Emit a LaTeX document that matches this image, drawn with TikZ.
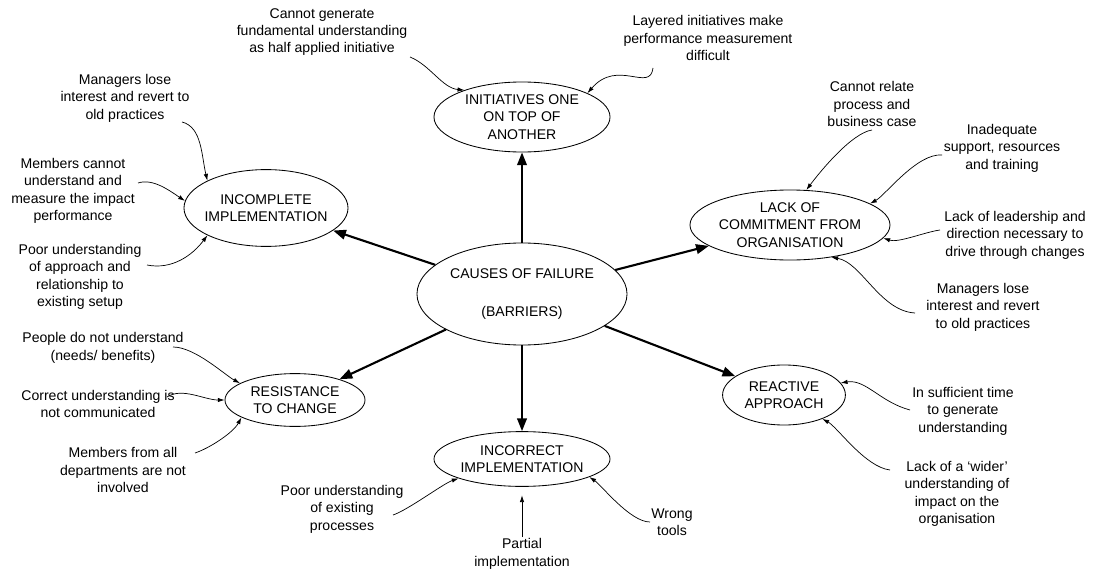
\documentclass[tikz,border=0pt]{standalone}
\usepackage{fontspec}
\setmainfont{Liberation Sans}
\usetikzlibrary{shapes.geometric,arrows.meta}

\begin{document}
\begin{tikzpicture}[x=0.025cm,y=-0.025cm,
		font=\fontsize{10}{12.4}\selectfont,
		cause/.style={draw,ellipse,line width=0.6pt,inner xsep=-3pt,inner ysep=0pt,align=center},
		note/.style={align=center,inner sep=1pt},
		link/.style={-{Triangle[length=3.2mm,width=2.4mm]},line width=1.5pt},
		feed/.style={-{Latex[length=1.7mm,width=1.1mm]},line width=0.5pt}]
		\useasboundingbox (0,0) rectangle (1094,572);
		
		% causes
		\node[cause,minimum width=5.25cm,minimum height=2.55cm] (fail) at (522,294) {CAUSES OF FAILURE\\[14pt](BARRIERS)};
		\node[cause,minimum width=4.4cm,minimum height=1.75cm] (init) at (522,117) {INITIATIVES ONE\\ON TOP OF\\ANOTHER};
		\node[cause,minimum width=4.1cm,minimum height=1.92cm] (incomplete) at (266,208) {INCOMPLETE\\IMPLEMENTATION};
		\node[cause,minimum width=5cm,minimum height=1.75cm] (lack) at (790,225) {LACK OF\\COMMITMENT FROM\\ORGANISATION};
		\node[cause,minimum width=3.5cm,minimum height=1.32cm] (resist) at (295,400) {RESISTANCE\\TO CHANGE};
		\node[cause,minimum width=4.4cm,minimum height=1.37cm] (incorrect) at (522,459) {INCORRECT\\IMPLEMENTATION};
		\node[cause,minimum width=3.07cm,minimum height=1.5cm] (react) at (784,395) {REACTIVE\\APPROACH};
		
		\foreach \t in {init,incomplete,lack,resist,incorrect,react}{
			\draw[link] (fail) -- (\t);
		}
		
		% reasons
		\node[note] (n1) at (322,32) {Cannot generate\\fundamental understanding\\as half applied initiative};
		\node[note] (n2) at (708,38) {Layered initiatives make\\performance measurement\\difficult};
		\node[note] (n3) at (125,98) {Managers lose\\interest and revert to\\old practices};
		\node[note] (n4) at (73,191) {Members cannot\\understand and\\measure the impact\\performance};
		\node[note] (n5) at (80,277) {Poor understanding\\of approach and\\relationship to\\existing setup};
		\node[note] (n6) at (872,104) {Cannot relate\\process and\\business case};
		\node[note] (n7) at (1002,148) {Inadequate\\support, resources\\and training};
		\node[note] (n8) at (1015,235) {Lack of leadership and\\direction necessary to\\drive through changes};
		\node[note] (n9) at (983,307) {Managers lose\\interest and revert\\to old practices};
		\node[note] (n10) at (103,348) {People do not understand\\(needs/ benefits)};
		\node[note] (n11) at (98,404) {Correct understanding is\\not communicated};
		\node[note] (n12) at (123,470) {Members from all\\departments are not\\involved};
		\node[note] (n13) at (342,509) {Poor understanding\\of existing\\processes};
		\node[note] (partial) at (522,554) {Partial\\implementation};
		\node[note] (n15) at (672,522) {Wrong\\tools};
		\node[note] (n16) at (963,411) {In sufficient time\\to generate\\understanding};
		\node[note] (n17) at (957,494) {Lack of a ‘wider’\\understanding of\\impact on the\\organisation};
		
		\coordinate (t1) at (410,57);
		\coordinate (t2) at (653,68);
		\coordinate (t3) at (182,122);
		\coordinate (t4) at (138,183);
		\coordinate (t5) at (147,265);
		\coordinate (t6) at (872,130);
		\coordinate (t7) at (942,155);
		\coordinate (t8) at (940,230);
		\coordinate (t9) at (915,313);
		\coordinate (t10) at (173,347);
		\coordinate (t11) at (167,397);
		\coordinate (t12) at (195,453);
		\coordinate (t13) at (393,515);
		\coordinate (t15) at (650,522);
		\coordinate (t16) at (910,410);
		\coordinate (t17) at (890,470);
		
		\draw[feed] (t1) .. controls +(20,8) and +(-22,-2) .. (init.155);
		\draw[feed] (t2) .. controls +(-3,25) and +(30,-35) .. (init.20);
		\draw[feed] (t3) .. controls +(20,5) and +(-6,-25) .. (incomplete.155);
		\draw[feed] (t4) .. controls +(15,-5) and +(-15,-10) .. (incomplete.175);
		\draw[feed] (t5) .. controls +(25,5) and +(-15,20) .. (incomplete.205);
		\draw[feed] (t6) .. controls +(-20,3) and +(15,-20) .. (lack.65);
		\draw[feed] (t7) .. controls +(-25,-2) and +(15,-8) .. (lack.15);
		\draw[feed] (t8) .. controls +(-15,2) and +(15,5) .. (lack.-8);
		\draw[feed] (t9) .. controls +(-35,-2) and +(30,5) .. (lack.-38);
		\draw[feed] (t10) .. controls +(22,0) and +(-15,-8) .. (resist.163);
		\draw[feed] (t11) .. controls +(15,-10) and +(-20,0) .. (resist.180);
		\draw[feed] (t12) .. controls +(15,-5) and +(-8,15) .. (resist.198);
		\draw[feed] (t13) .. controls +(15,-5) and +(-15,5) .. (incorrect.197);
		\draw[feed,shorten >=6pt] (partial) -- (incorrect);
		\draw[feed] (t15) .. controls +(-20,0) and +(12,8) .. (incorrect.-15);
		\draw[feed] (t16) .. controls +(-30,-8) and +(25,-4) .. (react.12);
		\draw[feed] (t17) .. controls +(-25,-3) and +(15,8) .. (react.-32);
	\end{tikzpicture}
\end{document}
